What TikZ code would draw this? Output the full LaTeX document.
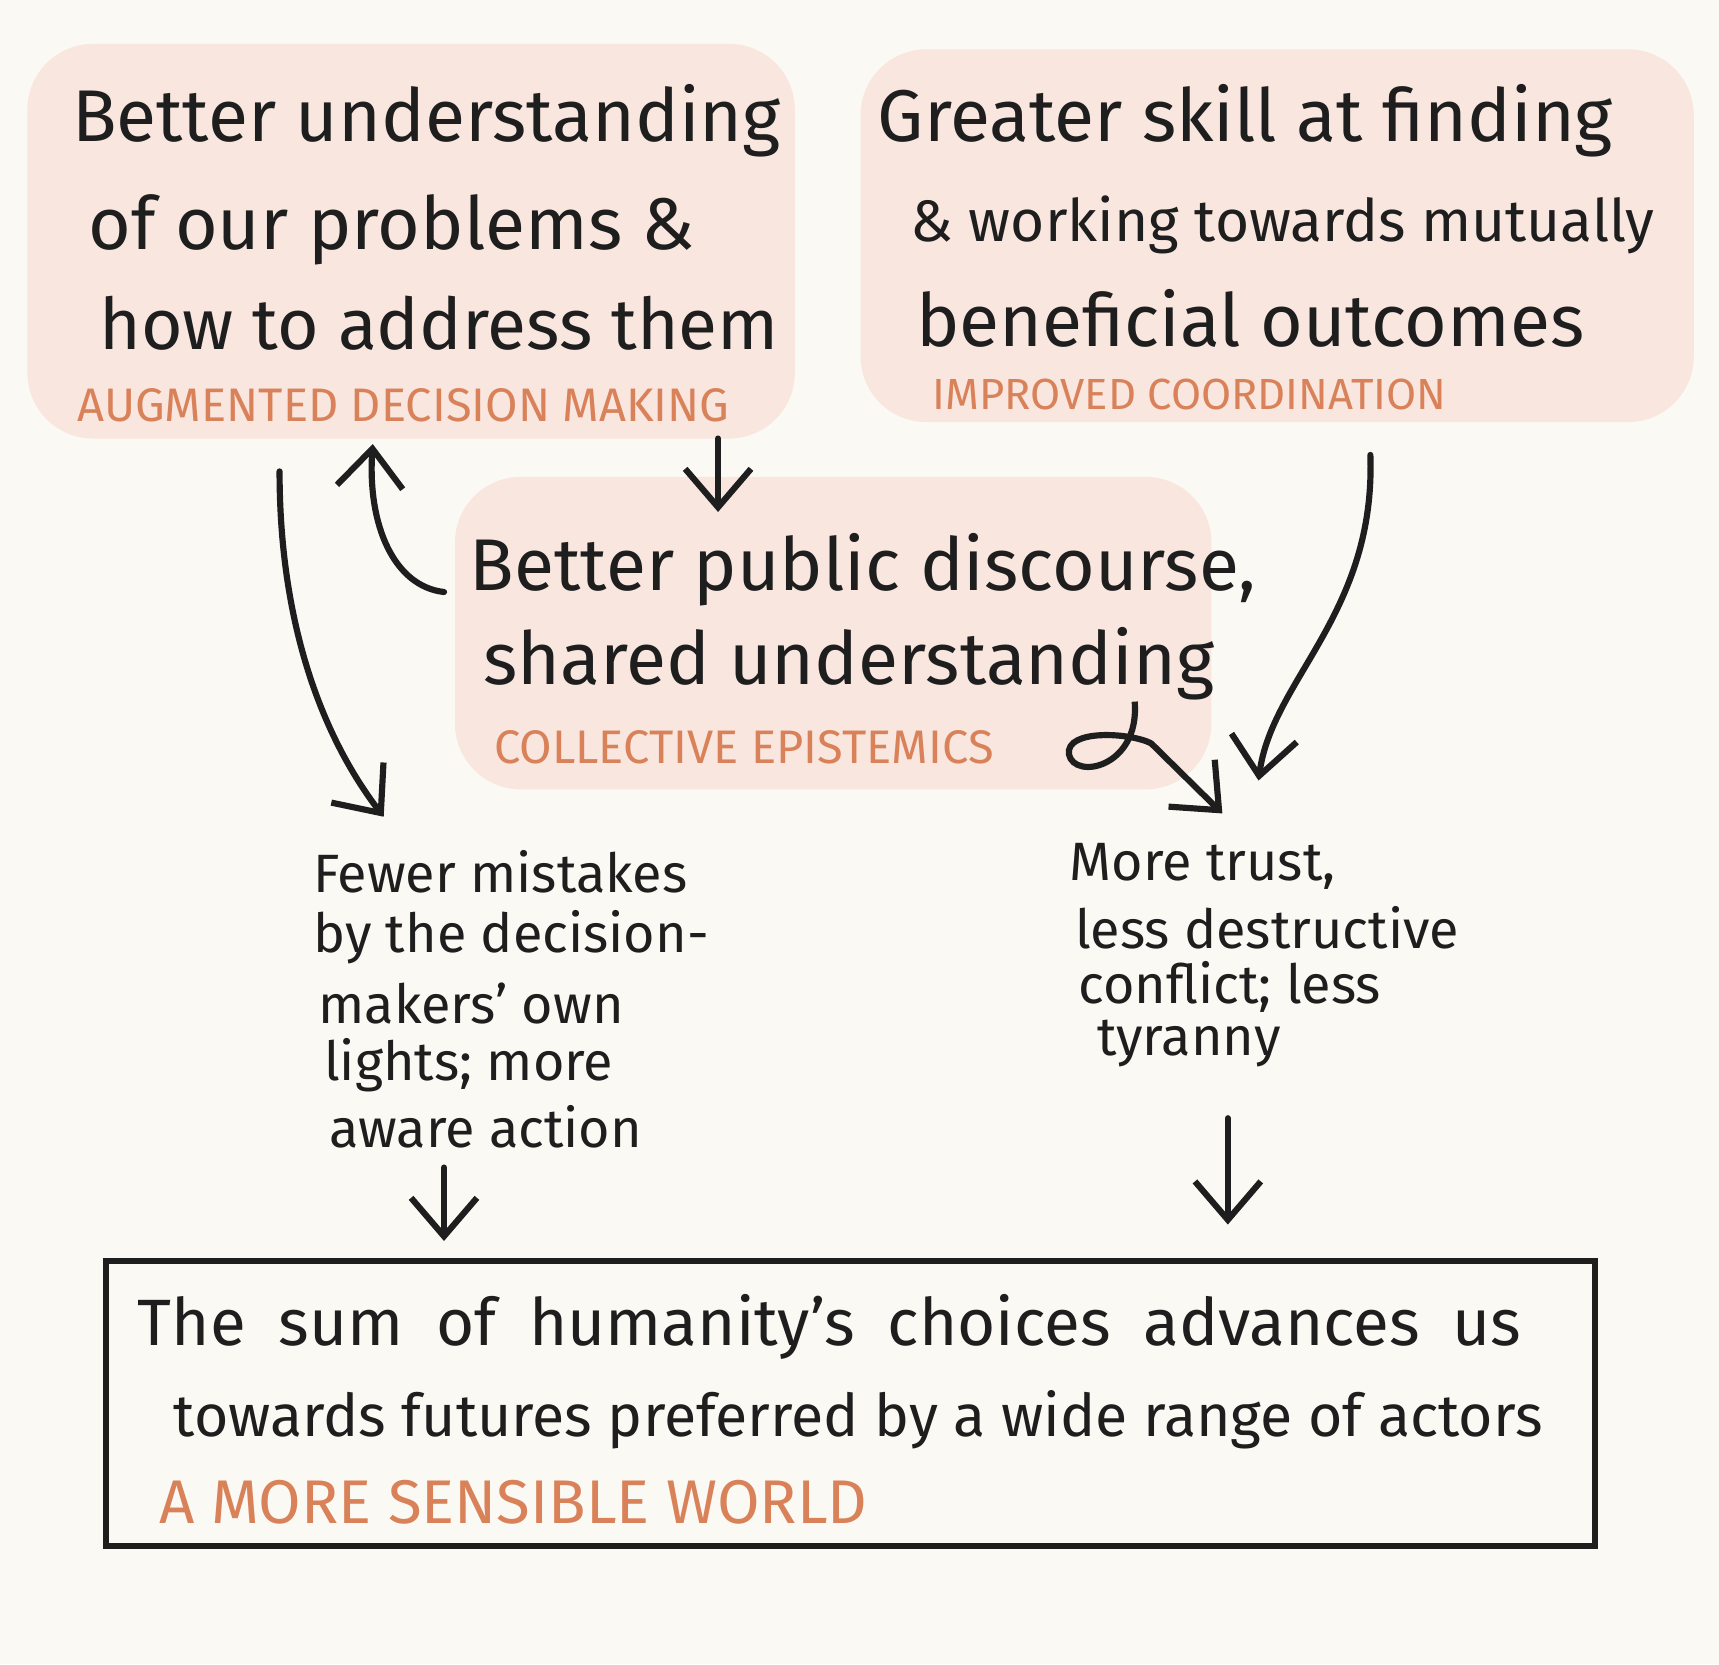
\documentclass[tikz,border=0pt]{standalone}
\usetikzlibrary{arrows.meta}
\usepackage{fontspec}
\setmainfont{Fira Sans}
\definecolor{bgc}{HTML}{FBF9F3}
\definecolor{pinkbox}{HTML}{F8E6DF}
\definecolor{lab}{HTML}{D9825A}
\definecolor{ink}{HTML}{1E1E1E}
\tikzset{
  blob/.style={fill=pinkbox,rounded corners=0.6cm,draw=none},
  big/.style={anchor=west,inner sep=0,text=ink,font=\fontsize{19}{19}\selectfont},
  bot/.style={anchor=west,inner sep=0,text=ink,font=\fontsize{17}{17}\selectfont},
  mid/.style={anchor=west,inner sep=0,text=ink,font=\fontsize{14}{14}\selectfont},
  lbl/.style={anchor=west,inner sep=0,text=lab,font=\fontsize{12.2}{12.2}\selectfont},
  lblbig/.style={anchor=west,inner sep=0,text=lab,font=\fontsize{16}{16}\selectfont},
  arr/.style={draw=ink,line width=1.6pt,-{Straight Barb[length=3.5mm,width=6mm]},line cap=round}
}
\begin{document}
\begin{tikzpicture}[x=0.01cm,y=-0.01cm]
\fill[bgc] (0,0) rectangle (1568,1518);
\useasboundingbox (0,0) rectangle (1568,1518);
\fill[blob] (25,40) rectangle (725,400);
\fill[blob] (785,45) rectangle (1545,385);
\fill[blob] (415,435) rectangle (1105,720);
\node[big] (a1) at (65,110) {Better understanding};
\node[big] (a2) at (80,210) {of our problems \&};
\node[big,font=\fontsize{18.5}{18.5}\selectfont] (a3) at (90,295) {how to address them};
\node[lbl] (al) at (70,370) {AUGMENTED DECISION MAKING};
\node[big] (b1) at (800,110) {Greater skill at finding};
\node[big,font=\fontsize{15.2}{15.2}\selectfont] (b2) at (830,205) {\& working towards mutually};
\node[big] (b3) at (835,290) {beneficial outcomes};
\node[lbl,font=\fontsize{11.3}{11.3}\selectfont] (bl) at (850,360) {IMPROVED COORDINATION};
\node[big] (c1) at (428,520) {Better public discourse,};
\node[big] (c2) at (440,605) {shared understanding};
\node[lbl] (cl) at (450,682) {COLLECTIVE EPISTEMICS};
\node[mid] (l1) at (285,795) {Fewer mistakes};
\node[mid] (l2) at (285,855) {by the decision-};
\node[mid] (l3) at (290,915) {makers' own};
\node[mid] (l4) at (295,972) {lights; more};
\node[mid] (l5) at (300,1028) {aware action};
\node[mid] (r1) at (975,790) {More trust,};
\node[mid] (r2) at (980,846) {less destructive};
\node[mid] (r3) at (983,900) {conflict; less};
\node[mid] (r4) at (1000,952) {tyranny};
\draw[ink,line width=1.6pt] (97,1150) rectangle (1455,1410);
\node[bot] (d1) at (125,1210) {The\enspace sum\enspace of\enspace humanity's\enspace choices\enspace advances\enspace us};
\node[bot,font=\fontsize{15.3}{15.3}\selectfont] (d2) at (158,1295) {towards futures preferred by a wide range of actors};
\node[lblbig] (dl) at (145,1370) {A MORE SENSIBLE WORLD};
\coordinate (p1) at (255,430); \coordinate (p2) at (350,745);
\draw[arr] (p1) .. controls (255,580) and (300,680) .. (p2);
\coordinate (q1) at (405,540); \coordinate (q2) at (340,405);
\draw[arr] (q1) .. controls (360,535) and (335,480) .. (q2);
\coordinate (s1) at (655,400); \coordinate (s2) at (655,467);
\draw[arr] (s1) -- (s2);
\coordinate (t1) at (1250,415); \coordinate (t2) at (1148,712);
\draw[arr] (t1) .. controls (1255,560) and (1160,620) .. (t2);
\coordinate (u0) at (1035,640);
\coordinate (u1) at (1050,678); \coordinate (u2) at (1115,742);
\draw[ink,line width=1.6pt] (u0) .. controls (1040,700) and (980,712) .. (975,688) .. controls (972,665) and (1030,668) .. (u1);
\draw[arr] (u1) -- (u2);
\coordinate (v1) at (405,1065); \coordinate (v2) at (405,1132);
\draw[arr] (v1) -- (v2);
\coordinate (w1) at (1120,1020); \coordinate (w2) at (1120,1117);
\draw[arr] (w1) -- (w2);
\end{tikzpicture}
\end{document}
